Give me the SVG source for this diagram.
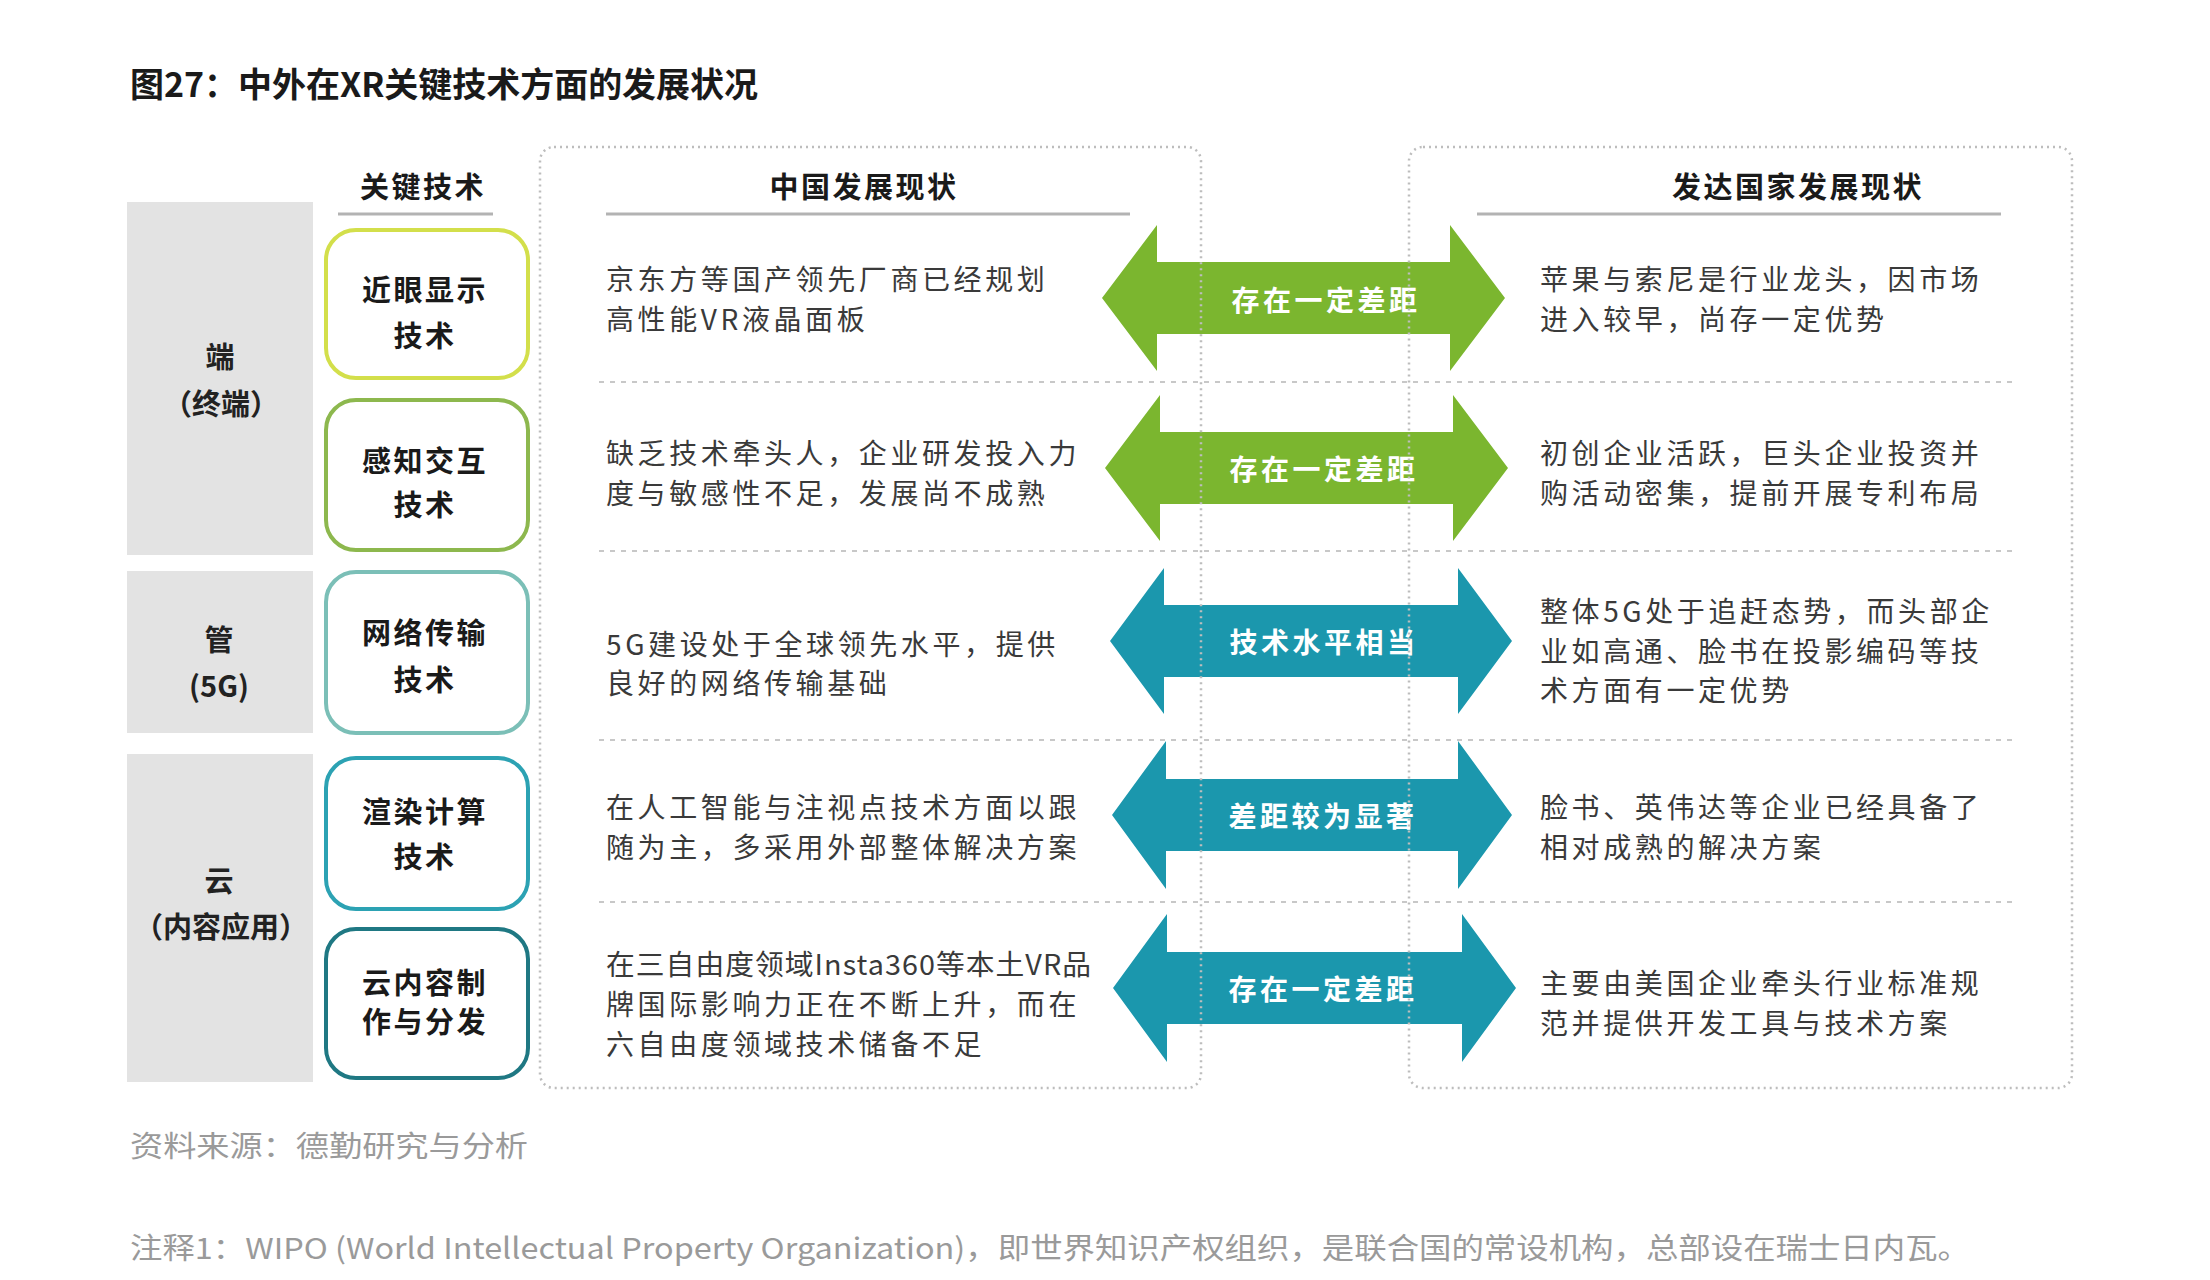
<svg xmlns="http://www.w3.org/2000/svg" width="2210" height="1280" viewBox="0 0 2210 1280">
<style>
text{font-family:"Noto Sans CJK SC","Noto Sans",sans-serif;dominant-baseline:central}
.title{font-size:34px;font-weight:700;fill:#1a1a1a}
.hdr{font-size:29px;font-weight:700;fill:#1a1a1a;text-anchor:middle;letter-spacing:2.5px}
.cat{font-size:29px;font-weight:700;fill:#222;text-anchor:middle}
.tech{font-size:29px;font-weight:700;fill:#1a1a1a;text-anchor:middle;letter-spacing:2.5px}
.body{font-size:28px;fill:#3a3a3a;letter-spacing:3.6px}
.lbl{font-size:28px;font-weight:700;fill:#ffffff;text-anchor:middle;letter-spacing:3.5px}
.foot{font-size:29px;fill:#9a9a9a}
.gray{fill:#e3e3e3}
.box{fill:#fff;stroke-width:4}
.uline{stroke:#b3b3b3;stroke-width:3}
.sep{stroke:#c8c8c8;stroke-width:2;stroke-dasharray:5 6;fill:none}
.panel{fill:none;stroke:#bdbdbd;stroke-width:2.5;stroke-dasharray:2 4}
.green{fill:#7bb62f}
.teal{fill:#1b97ad}
</style>
<rect width="2210" height="1280" fill="#ffffff"/>
<text class="title" x="130" y="82" textLength="628" lengthAdjust="spacing">图27：中外在XR关键技术方面的发展状况</text>

<g id="categories">
  <g id="cat-duan">
    <rect class="gray" x="127" y="202" width="186" height="353"/>
    <text class="cat" x="220" y="355">端</text>
    <text class="cat" x="221" y="402">（终端）</text>
  </g>
  <g id="cat-guan">
    <rect class="gray" x="127" y="571" width="186" height="162"/>
    <text class="cat" x="219" y="638">管</text>
    <text class="cat" x="219" y="684">(5G)</text>
  </g>
  <g id="cat-yun">
    <rect class="gray" x="127" y="754" width="186" height="328"/>
    <text class="cat" x="219" y="879">云</text>
    <text class="cat" x="221" y="925">（内容应用）</text>
  </g>
</g>

<g id="header-key">
  <text class="hdr" x="423" y="185">关键技术</text>
  <line class="uline" x1="338" y1="214" x2="493" y2="214"/>
</g>

<g id="tech-boxes">
  <g id="tech-1">
    <rect class="box" x="326" y="230" width="202" height="148" rx="30" stroke="#d3df4b"/>
    <text class="tech" x="425" y="288">近眼显示</text>
    <text class="tech" x="425" y="334">技术</text>
  </g>
  <g id="tech-2">
    <rect class="box" x="326" y="400" width="202" height="150" rx="30" stroke="#8db84e"/>
    <text class="tech" x="425" y="459">感知交互</text>
    <text class="tech" x="425" y="503">技术</text>
  </g>
  <g id="tech-3">
    <rect class="box" x="326" y="572" width="202" height="161" rx="30" stroke="#7bbfb7"/>
    <text class="tech" x="425" y="631">网络传输</text>
    <text class="tech" x="425" y="678">技术</text>
  </g>
  <g id="tech-4">
    <rect class="box" x="326" y="758" width="202" height="151" rx="30" stroke="#2ca2b3"/>
    <text class="tech" x="425" y="810">渲染计算</text>
    <text class="tech" x="425" y="855">技术</text>
  </g>
  <g id="tech-5">
    <rect class="box" x="326" y="929" width="202" height="149" rx="30" stroke="#1f7883"/>
    <text class="tech" x="425" y="981">云内容制</text>
    <text class="tech" x="425" y="1020">作与分发</text>
  </g>
</g>

<g id="separators">
  <line class="sep" x1="599" y1="382" x2="2018" y2="382"/>
  <line class="sep" x1="599" y1="551" x2="2018" y2="551"/>
  <line class="sep" x1="599" y1="740" x2="2018" y2="740"/>
  <line class="sep" x1="599" y1="902" x2="2018" y2="902"/>
</g>

<g id="connectors">
  <g id="arrow-1">
    <path class="green" d="M1102,298 L1157,225 L1157,262 L1450,262 L1450,225 L1505,298 L1450,371 L1450,334 L1157,334 L1157,371 Z"/>
    <text class="lbl" x="1326" y="299">存在一定差距</text>
  </g>
  <g id="arrow-2">
    <path class="green" d="M1105,468 L1160,395 L1160,432 L1453,432 L1453,395 L1508,468 L1453,541 L1453,504 L1160,504 L1160,541 Z"/>
    <text class="lbl" x="1324" y="468">存在一定差距</text>
  </g>
  <g id="arrow-3">
    <path class="teal" d="M1110,641 L1164,568 L1164,605 L1458,605 L1458,568 L1512,641 L1458,714 L1458,677 L1164,677 L1164,714 Z"/>
    <text class="lbl" x="1324" y="641">技术水平相当</text>
  </g>
  <g id="arrow-4">
    <path class="teal" d="M1112,815 L1166,741 L1166,779 L1458,779 L1458,741 L1512,815 L1458,889 L1458,851 L1166,851 L1166,889 Z"/>
    <text class="lbl" x="1323" y="815">差距较为显著</text>
  </g>
  <g id="arrow-5">
    <path class="teal" d="M1113,988 L1167,914 L1167,952 L1462,952 L1462,914 L1516,988 L1462,1062 L1462,1024 L1167,1024 L1167,1062 Z"/>
    <text class="lbl" x="1323" y="988">存在一定差距</text>
  </g>
</g>

<g id="panel-china">
  <rect class="panel" x="540" y="147" width="661" height="941" rx="14"/>
  <text class="hdr" x="864" y="185">中国发展现状</text>
  <line class="uline" x1="606" y1="214" x2="1130" y2="214"/>
  <text class="body" x="606" y="278">京东方等国产领先厂商已经规划</text>
  <text class="body" x="606" y="318">高性能VR液晶面板</text>
  <text class="body" x="606" y="452">缺乏技术牵头人，企业研发投入力</text>
  <text class="body" x="606" y="492">度与敏感性不足，发展尚不成熟</text>
  <text class="body" x="606" y="643">5G建设处于全球领先水平，提供</text>
  <text class="body" x="606" y="682">良好的网络传输基础</text>
  <text class="body" x="606" y="806">在人工智能与注视点技术方面以跟</text>
  <text class="body" x="606" y="846">随为主，多采用外部整体解决方案</text>
  <text class="body" x="606" y="963" textLength="486" lengthAdjust="spacingAndGlyphs" style="letter-spacing:1px">在三自由度领域Insta360等本土VR品</text>
  <text class="body" x="606" y="1003">牌国际影响力正在不断上升，而在</text>
  <text class="body" x="606" y="1043">六自由度领域技术储备不足</text>
</g>

<g id="panel-developed">
  <rect class="panel" x="1409" y="147" width="663" height="941" rx="14"/>
  <text class="hdr" x="1798" y="185">发达国家发展现状</text>
  <line class="uline" x1="1477" y1="214" x2="2001" y2="214"/>
  <text class="body" x="1540" y="278">苹果与索尼是行业龙头，因市场</text>
  <text class="body" x="1540" y="318">进入较早，尚存一定优势</text>
  <text class="body" x="1540" y="452">初创企业活跃，巨头企业投资并</text>
  <text class="body" x="1540" y="492">购活动密集，提前开展专利布局</text>
  <text class="body" x="1540" y="610">整体5G处于追赶态势，而头部企</text>
  <text class="body" x="1540" y="650">业如高通、脸书在投影编码等技</text>
  <text class="body" x="1540" y="689">术方面有一定优势</text>
  <text class="body" x="1540" y="806">脸书、英伟达等企业已经具备了</text>
  <text class="body" x="1540" y="846">相对成熟的解决方案</text>
  <text class="body" x="1540" y="982">主要由美国企业牵头行业标准规</text>
  <text class="body" x="1540" y="1022">范并提供开发工具与技术方案</text>
</g>

<text class="foot" x="130" y="1144" textLength="398" lengthAdjust="spacingAndGlyphs">资料来源：德勤研究与分析</text>
<text class="foot" x="130" y="1246" textLength="1840" lengthAdjust="spacingAndGlyphs">注释1：WIPO (World Intellectual Property Organization)，即世界知识产权组织，是联合国的常设机构，总部设在瑞士日内瓦。</text>
</svg>
